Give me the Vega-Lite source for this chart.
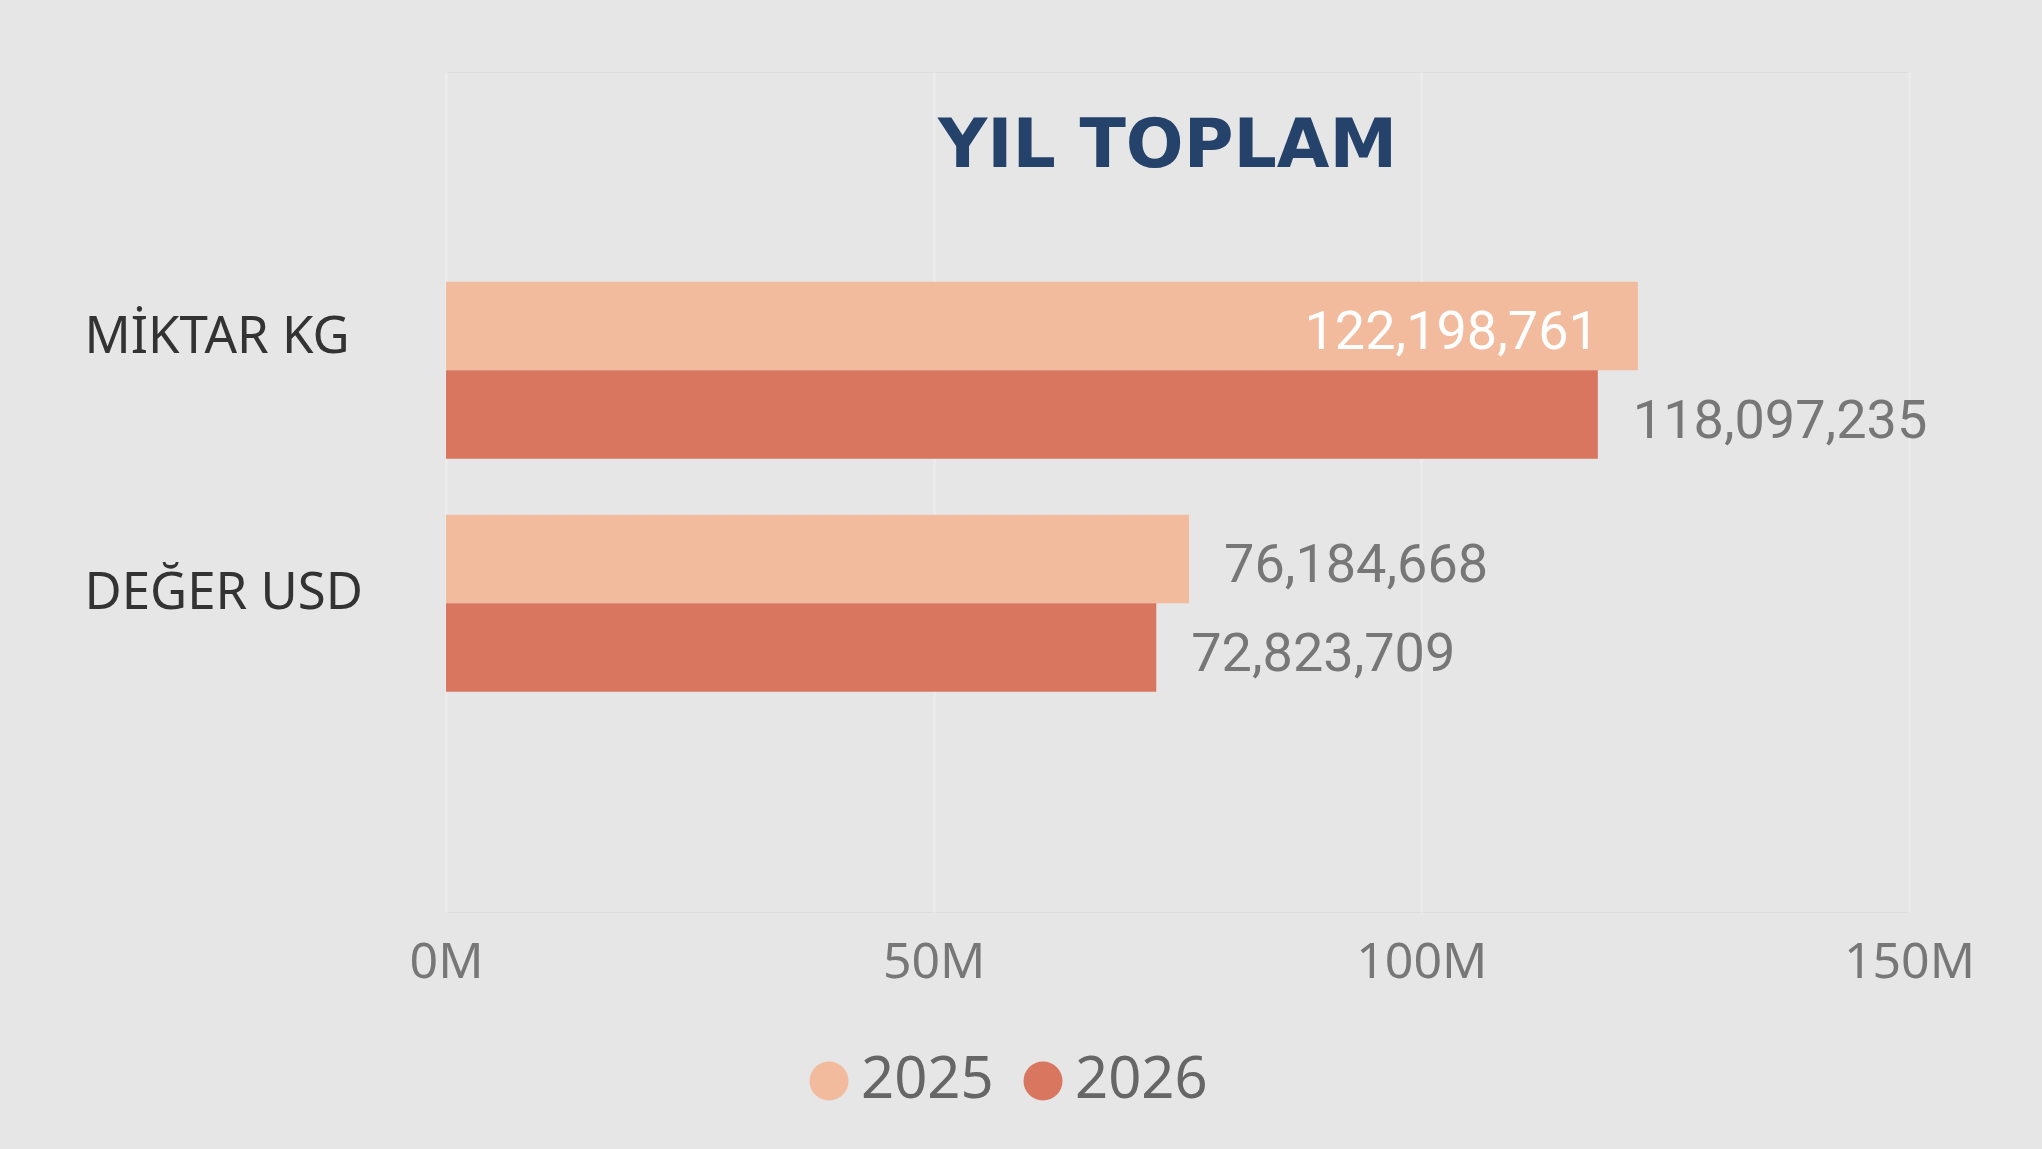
{
  "$schema": "https://vega.github.io/schema/vega-lite/v6.json",
  "autosize": {"type": "none"},
  "padding": {"left": 446, "top": 72, "right": 133, "bottom": 237},
  "width": 1463,
  "height": 840,
  "background": "#e6e6e6",
  "title": {
    "text": "YIL TOPLAM",
    "font": "DejaVu Sans",
    "fontWeight": "bold",
    "fontSize": 68,
    "color": "#24426A",
    "anchor": "middle",
    "frame": "group",
    "orient": "top",
    "baseline": "alphabetic",
    "offset": 0,
    "dx": -10,
    "dy": 163
  },
  "data": {
    "values": [
      {"measure": "MİKTAR KG", "year": "2025", "value": 122198761},
      {"measure": "MİKTAR KG", "year": "2026", "value": 118097235},
      {"measure": "DEĞER USD", "year": "2025", "value": 76184668},
      {"measure": "DEĞER USD", "year": "2026", "value": 72823709}
    ]
  },
  "encoding": {
    "y": {
      "field": "measure",
      "type": "nominal",
      "sort": ["MİKTAR KG", "DEĞER USD"],
      "scale": {"paddingInner": 0.2403, "paddingOuter": 0.9227, "align": 0.488},
      "axis": {
        "title": null,
        "domain": false,
        "ticks": false,
        "tickSize": 0,
        "grid": false,
        "labelAlign": "left",
        "labelBaseline": "alphabetic",
        "labelPadding": 362,
        "labelFont": "Noto Sans",
        "labelFontSize": 51,
        "labelColor": "#333333",
        "labelLimit": 0,
        "labelOffset": {"condition": {"test": "datum.value === 'MİKTAR KG'", "value": -17.5}, "value": 5.5}
      }
    },
    "yOffset": {
      "field": "year",
      "type": "nominal",
      "sort": ["2025", "2026"],
      "scale": {"paddingInner": 0, "paddingOuter": 0}
    },
    "x": {
      "field": "value",
      "type": "quantitative",
      "scale": {"domain": [0, 150000000], "nice": false, "zero": true},
      "axis": {
        "title": null,
        "values": [0, 50000000, 100000000, 150000000],
        "labelExpr": "(datum.value / 1000000) + 'M'",
        "domain": false,
        "ticks": false,
        "tickSize": 0,
        "grid": true,
        "gridColor": "#ebebeb",
        "gridWidth": 3,
        "labelFont": "Noto Sans",
        "labelFontSize": 50,
        "labelColor": "#777777",
        "labelBaseline": "alphabetic",
        "labelPadding": 65,
        "labelFlush": false
      }
    }
  },
  "layer": [
    {
      "mark": {"type": "bar"},
      "encoding": {
        "color": {
          "field": "year",
          "type": "nominal",
          "scale": {"domain": ["2025", "2026"], "range": ["#F2BB9D", "#D97660"]},
          "legend": {
            "title": null,
            "orient": "none",
            "direction": "horizontal",
            "legendX": 354,
            "legendY": 980,
            "padding": 0,
            "symbolType": "circle",
            "symbolSize": 1521,
            "symbolStrokeWidth": 0,
            "symbolOpacity": 1,
            "labelFont": "Noto Sans",
            "labelFontSize": 58,
            "labelColor": "#666666",
            "labelOffset": 3,
            "columnPadding": 20,
            "labelLimit": 0
          }
        }
      }
    },
    {
      "transform": [{"filter": "datum.value <= 120000000"}],
      "mark": {
        "type": "text",
        "align": "left",
        "baseline": "alphabetic",
        "dx": 35,
        "dy": 23,
        "font": "Roboto",
        "fontSize": 54,
        "color": "#777777"
      },
      "encoding": {
        "text": {"field": "value", "type": "quantitative", "format": ","}
      }
    },
    {
      "transform": [{"filter": "datum.value > 120000000"}],
      "mark": {
        "type": "text",
        "align": "right",
        "baseline": "alphabetic",
        "dx": -39,
        "dy": 23,
        "font": "Roboto",
        "fontSize": 54,
        "color": "#ffffff"
      },
      "encoding": {
        "text": {"field": "value", "type": "quantitative", "format": ","}
      }
    }
  ]
}
